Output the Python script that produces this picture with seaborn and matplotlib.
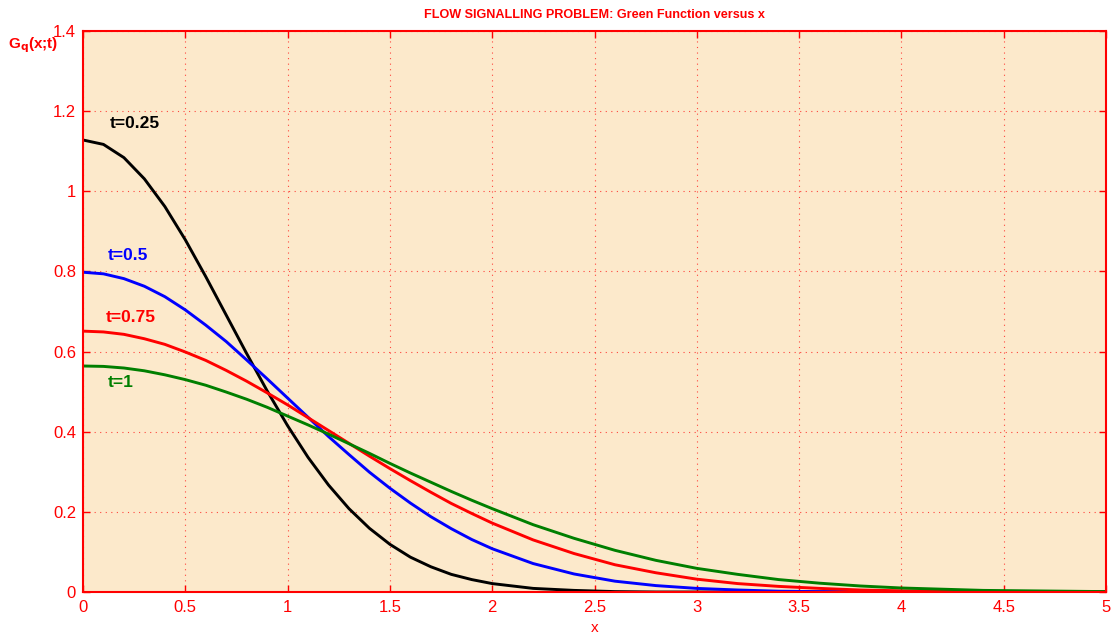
import numpy as np
import pandas as pd
import seaborn as sns
import matplotlib.pyplot as plt

# values
x = [0.0, 0.1, 0.2, 0.3, 0.4, 0.5, 0.6, 0.7, 0.8, 0.9, 1.0,
     1.1, 1.2, 1.3, 1.4, 1.5, 1.6, 1.7, 1.8, 1.9, 2.0,
     2.2, 2.4, 2.6, 2.8, 3.0, 3.2, 3.4, 3.6, 3.8, 4.0,
     4.2, 4.4, 4.6, 4.8, 5.0]

g_025 = [1.128, 1.117, 1.084, 1.031, 0.962, 0.879, 0.787, 0.691, 0.595, 0.502, 0.415,
         0.336, 0.267, 0.208, 0.159, 0.119, 0.087, 0.063, 0.044, 0.031, 0.021,
         0.009, 0.004, 0.001, 0.000, 0.000, 0.000, 0.000, 0.000, 0.000, 0.000,
         0.000, 0.000, 0.000, 0.000, 0.000]
g_05 = [0.798, 0.794, 0.782, 0.763, 0.737, 0.704, 0.666, 0.625, 0.579, 0.532, 0.484,
        0.436, 0.388, 0.343, 0.299, 0.259, 0.222, 0.188, 0.158, 0.131, 0.108,
        0.071, 0.045, 0.027, 0.016, 0.009, 0.005, 0.002, 0.001, 0.001, 0.000,
        0.000, 0.000, 0.000, 0.000, 0.000]
g_075 = [0.651, 0.649, 0.643, 0.632, 0.618, 0.599, 0.578, 0.553, 0.526, 0.497, 0.467,
         0.435, 0.403, 0.371, 0.339, 0.308, 0.278, 0.249, 0.221, 0.196, 0.172,
         0.130, 0.096, 0.068, 0.048, 0.032, 0.021, 0.014, 0.009, 0.005, 0.003,
         0.002, 0.001, 0.001, 0.000, 0.000]
g_1 = [0.564, 0.563, 0.559, 0.552, 0.542, 0.530, 0.516, 0.499, 0.481, 0.461, 0.439,
       0.417, 0.394, 0.370, 0.346, 0.321, 0.297, 0.274, 0.251, 0.229, 0.208,
       0.168, 0.134, 0.104, 0.079, 0.059, 0.044, 0.031, 0.022, 0.015, 0.010,
       0.007, 0.004, 0.003, 0.002, 0.001]

labels = ['t=0.25', 't=0.5', 't=0.75', 't=1']
colors = ['black', 'blue', 'red', '#007f00']
label_pos = [(0.13, 1.168), (0.12, 0.839), (0.11, 0.686), (0.12, 0.522)]

df = pd.DataFrame({'x': x * 4,
                   'G': g_025 + g_05 + g_075 + g_1,
                   't': np.repeat(labels, len(x))})

sns.set_style('ticks')
plt.rcParams['font.family'] = ['Liberation Sans', 'DejaVu Sans']

fig = plt.figure(figsize=(11.17, 6.37), dpi=100)
ax = fig.add_axes([83/1117, 45/637, 1023/1117, 561/637])
ax.set_facecolor('#fce9cb')

sns.lineplot(data=df, x='x', y='G', hue='t', palette=colors, linewidth=2.1,
             legend=False, ax=ax)

for lab, c, (px, py) in zip(labels, colors, label_pos):
    ax.text(px, py, lab, color=c, fontsize=12.5, fontweight='bold', va='center')

ax.set_xlim(0, 5)
ax.set_ylim(0, 1.4)
ax.set_xticks(np.arange(0, 5.01, 0.5))
ax.set_xticklabels(['0', '0.5', '1', '1.5', '2', '2.5', '3', '3.5', '4', '4.5', '5'])
ax.set_yticks(np.arange(0, 1.41, 0.2))
ax.set_yticklabels(['0', '0.2', '0.4', '0.6', '0.8', '1', '1.2', '1.4'])
ax.grid(True, color='red', linestyle=(0, (1, 4)), linewidth=0.8, alpha=0.7)
ax.tick_params(direction='in', length=5, color='red', labelcolor='red',
               labelsize=12, top=True, right=True, width=1)
ax.tick_params(axis='x', pad=6)
ax.tick_params(axis='y', pad=5)
for sp in ax.spines.values():
    sp.set_color('red')
    sp.set_linewidth(1.5)

ax.set_xlabel('x', color='red', fontsize=11, labelpad=4)
ax.set_ylabel('')
fig.text(8/1117, 1 - 45/637, r'G$_\mathbf{q}$(x;t)', color='red', fontsize=11,
         fontweight='bold', va='center')
ax.set_title('FLOW SIGNALLING PROBLEM: Green Function versus x', color='red',
             fontsize=9.1, fontweight='bold', pad=9)

fig.savefig('out.png', dpi=100)
